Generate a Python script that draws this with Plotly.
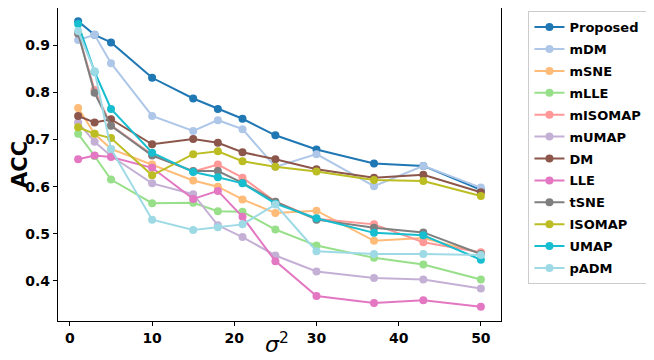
import plotly.graph_objects as go

# noise level sigma^2
sigma2 = [1, 3, 5, 10, 15, 18, 21, 25, 30, 37, 43, 50]

proposed = [0.951, 0.922, 0.906, 0.831, 0.787, 0.765, 0.744, 0.709, 0.679, 0.649, 0.644, 0.593]
mdm = [0.911, 0.922, 0.862, 0.750, 0.718, 0.741, 0.722, 0.642, 0.669, 0.601, 0.644, 0.598]
msne = [0.767, 0.712, 0.680, 0.647, 0.613, 0.600, 0.573, 0.544, 0.549, 0.485, 0.491, 0.459]
mlle = [0.712, 0.665, 0.615, 0.565, 0.566, 0.548, 0.547, 0.509, 0.475, 0.449, 0.435, 0.403]
misomap = [0.925, 0.805, 0.730, 0.668, 0.632, 0.647, 0.619, 0.568, 0.532, 0.520, 0.482, 0.461]
mumap = [0.736, 0.695, 0.665, 0.607, 0.584, 0.518, 0.493, 0.454, 0.420, 0.406, 0.403, 0.384]
dm = [0.750, 0.736, 0.743, 0.690, 0.701, 0.693, 0.673, 0.658, 0.637, 0.619, 0.625, 0.588]
lle = [0.658, 0.666, 0.663, 0.640, 0.574, 0.591, 0.536, 0.442, 0.368, 0.353, 0.359, 0.345]
tsne = [0.925, 0.799, 0.729, 0.666, 0.633, 0.633, 0.608, 0.568, 0.530, 0.513, 0.503, 0.457]
isomap = [0.726, 0.712, 0.703, 0.624, 0.669, 0.675, 0.654, 0.642, 0.632, 0.614, 0.612, 0.580]
umap = [0.945, 0.844, 0.765, 0.672, 0.631, 0.620, 0.607, 0.564, 0.533, 0.502, 0.497, 0.445]
padm = [0.930, 0.845, 0.680, 0.530, 0.508, 0.514, 0.520, 0.562, 0.463, 0.457, 0.457, 0.455]

methods = ["Proposed", "mDM", "mSNE", "mLLE", "mISOMAP", "mUMAP",
           "DM", "LLE", "tSNE", "ISOMAP", "UMAP", "pADM"]
series = [proposed, mdm, msne, mlle, misomap, mumap, dm, lle, tsne, isomap, umap, padm]
colors = ["#1f77b4", "#aec7e8", "#ffbb78", "#98df8a", "#ff9896", "#c5b0d5",
          "#8c564b", "#e377c2", "#7f7f7f", "#bcbd22", "#17becf", "#9edae5"]

fig = go.Figure()
for name, vals, c in zip(methods, series, colors):
    fig.add_trace(go.Scatter(
        x=sigma2, y=vals, name=name, mode="lines+markers",
        legendgroup=name,
        line=dict(color=c, width=2),
        marker=dict(color=c, size=8),
    ))

axis_style = dict(
    showline=True, linecolor="black", linewidth=1.2, mirror=True,
    ticks="outside", ticklen=4, tickcolor="black",
    showgrid=False, zeroline=False,
    tickfont=dict(family="DejaVu Sans", size=14, color="black", weight="bold"),
)

# the page body adds an 8px offset, so margins are shifted up/left by 8px
fig.update_layout(
    width=654, height=360,
    margin=dict(l=50, r=161, t=0, b=47),
    plot_bgcolor="white", paper_bgcolor="white",
    font=dict(family="DejaVu Sans", color="black"),
    legend=dict(
        x=1.062, y=0.99, xanchor="left", yanchor="top",
        bordercolor="#cccccc", borderwidth=1, bgcolor="white",
        font=dict(family="DejaVu Sans", size=13, color="black", weight="bold"),
        tracegroupgap=2,
    ),
)
fig.update_xaxes(range=[-1.45, 52.45], tickvals=[0, 10, 20, 30, 40, 50], **axis_style)
fig.update_yaxes(range=[0.315, 0.979], tickvals=[0.4, 0.5, 0.6, 0.7, 0.8, 0.9],
                 tickformat=".1f", **axis_style)
fig.update_yaxes(title=dict(text="ACC", standoff=3,
                            font=dict(family="DejaVu Sans", size=21, weight="bold")))

# sigma^2 label sits just right of the 20 tick, at tick-label height
fig.add_annotation(
    x=25.2, y=-0.07, xref="x", yref="paper", yanchor="middle", showarrow=False,
    text="<i>σ</i><sup>2</sup>",
    font=dict(family="DejaVu Sans", size=22, color="black"),
)

fig.write_html("out.html")
